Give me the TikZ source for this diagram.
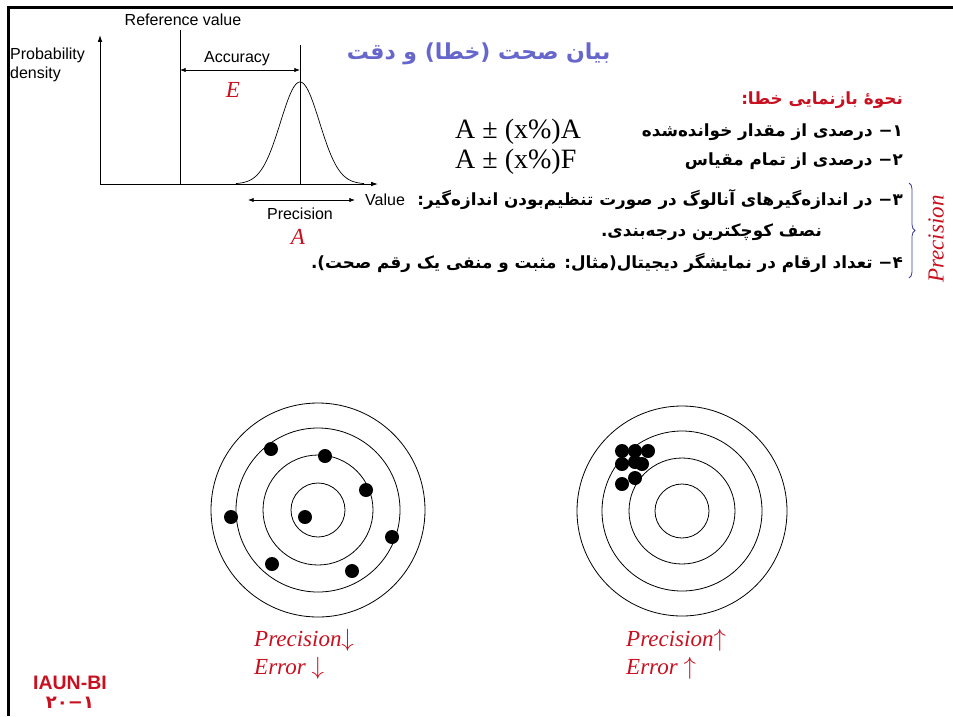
\documentclass[tikz,border=0pt]{standalone}
\usepackage{fontspec}
\setmainfont{Liberation Serif}
\setsansfont{Liberation Sans}
\newfontfamily\farsi[Script=Arabic]{DejaVu Sans}
\usetikzlibrary{arrows.meta,positioning,decorations.pathreplacing}
\definecolor{titleblue}{RGB}{102,102,204}
\definecolor{notered}{RGB}{200,16,32}
\definecolor{bracenavy}{RGB}{60,60,150}
\TeXXeTstate=1

\begin{document}
\begin{tikzpicture}[
    x=1pt,y=-1pt,
    lbl/.style={font=\sffamily\fontsize{16}{19}\selectfont,inner sep=1pt},
    fa/.style={font=\farsi\bfseries\fontsize{16.8}{20}\selectfont,anchor=east,inner sep=0pt},
    formula/.style={font=\fontsize{28}{30}\selectfont,anchor=west,inner sep=0pt},
    redit/.style={text=notered,font=\itshape\fontsize{23}{26}\selectfont,inner sep=0pt},
    axis/.style={-{Latex[length=2.4mm,width=1.6mm]},line width=0.9pt},
    dim/.style={{Latex[length=2mm,width=1.5mm]}-{Latex[length=2mm,width=1.5mm]},line width=0.7pt},
    ring/.style={line width=0.8pt},
    hit/.style={fill=black}
  ]
    \useasboundingbox (0,0) rectangle (953,716);
    % slide frame
    \draw[line width=3pt] (8,716) -- (8,7) -- (953,7);

    % distribution plot
    \coordinate (orig) at (100,184);
    \coordinate (ytop) at (100,35);
    \coordinate (xend) at (378,184);
    \coordinate (reftop) at (180,30);
    \coordinate (refbot) at (180,184);
    \coordinate (meantop) at (300,45);
    \coordinate (meanbot) at (300,184);
    \coordinate (accL) at (180,70);
    \coordinate (accR) at (300,70);
    \coordinate (precL) at (248,200);
    \coordinate (precR) at (355,200);
    \draw[axis] (orig) -- (ytop);
    \draw[axis] (orig) -- (xend);
    \draw[line width=0.8pt] (refbot) -- (reftop);
    \draw[line width=0.6pt] (meanbot) -- (meantop);
    \draw[line width=0.7pt] plot[domain=236:364,samples=90]
      (\x,{184-102*exp(-0.5*(\x-300)*(\x-300)/380)});
    \draw[dim] (accL) -- (accR);
    \draw[dim] (precL) -- (precR);
    \node[lbl] (refval) at (183,20) {Reference value};
    \node[lbl,anchor=north west,align=left] (pdens) at (9,47) {Probability\\density};
    \node[lbl] (acc) at (237,59) {Accuracy};
    \node[redit] (errE) at (233,90) {E};
    \node[lbl] (prec) at (300,214) {Precision};
    \node[lbl,anchor=west] (val) at (364,200) {Value};
    \node[redit] (accA) at (298,237) {A};

    % error notation text
    \node[font=\farsi\bfseries\fontsize{22}{26}\selectfont,text=titleblue,anchor=east] (title)
      at (614,54) {\beginR بیان صحت (خطا) و دقت\endR};
    \node[fa,text=notered] (head) at (903,100) {\beginR نحوهٔ بازنمایی خطا:\endR};
    \node[fa] (item1) at (903,132) {\beginR ۱− درصدی از مقدار خوانده‌شده\endR};
    \node[fa] (item2) at (903,161) {\beginR ۲− درصدی از تمام مقیاس\endR};
    \node[fa] (item3) at (903,200) {\beginR ۳− در اندازه‌گیرهای آنالوگ در صورت تنظیم‌بودن اندازه‌گیر:\endR};
    \node[fa] (item3b) at (822,232) {\beginR نصف کوچکترین درجه‌بندی.\endR};
    \node[fa] (item4) at (903,263) {\beginR ۴− تعداد ارقام در نمایشگر دیجیتال(مثال: مثبت و منفی یک رقم صحت).\endR};
    \node[formula] (form1) at (455,132) {A ± (x\%)A};
    \node[formula] (form2) at (455,162) {A ± (x\%)F};
    \coordinate (brtop) at (909,183);
    \coordinate (brbot) at (909,278);
    \draw[bracenavy,line width=0.8pt,decorate,decoration={brace,amplitude=6pt}] (brtop) -- (brbot);
    \node[redit,rotate=90] (precside) at (936,239) {Precision};

    % targets
    \coordinate (tgtL) at (318,510);
    \coordinate (tgtR) at (682,511);
    \foreach \r in {107,82,55,27} {
      \draw[ring] (tgtL) circle[radius=\r];
    }
    \foreach \r in {105,80,53,27} {
      \draw[ring] (tgtR) circle[radius=\r];
    }
    \foreach \p in {(271,449),(325,456),(366,490),(231,517),(305,517),(392,537),(272,564),(352,571)} {
      \fill[hit] \p circle[radius=7];
    }
    \foreach \p in {(622,451),(635,451),(648,451),(622,464),(635,462),(642,464),(635,478),(622,484)} {
      \fill[hit] \p circle[radius=7];
    }
    \node[redit,anchor=west] (precdown) at (254,640) {Precision$\downarrow$};
    \node[redit,anchor=west] (errdown) at (254,668) {Error $\downarrow$};
    \node[redit,anchor=west] (precup) at (626,640) {Precision$\uparrow$};
    \node[redit,anchor=west] (errup) at (626,668) {Error $\uparrow$};

    % footer
    \node[font=\sffamily\bfseries\fontsize{19.5}{22}\selectfont,text=notered,inner sep=0pt] (iaun) at (70,683) {IAUN-BI};
    \node[font=\farsi\bfseries\fontsize{18}{20}\selectfont,text=notered,inner sep=0pt] (slideno) at (70,703) {۲۰−۱};
  \end{tikzpicture}
\end{document}
